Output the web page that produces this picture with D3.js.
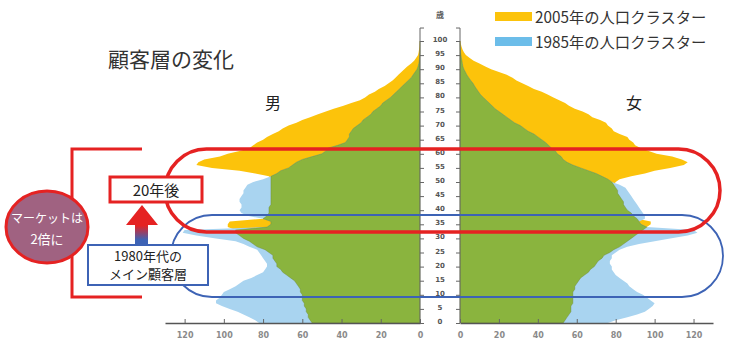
<!DOCTYPE html>
<html><head><meta charset="utf-8">
<script src="https://cdn.jsdelivr.net/npm/d3@7"></script>
<style>
body{margin:0;background:#fff;}
text{font-family:"Noto Sans CJK JP","Noto Sans",sans-serif;}
</style>
</head><body><script>
// ---- data (population, unit: 10,000 persons) ----
const ages = d3.range(0, 101);
const male2005 = [55,56,57,57,58,58,59,59,60,60, 60,61,61,62,63,64,66,68,70,71,
  73,73,74,75,75,77,79,83,85,87, 90,92,94,94,98,98,97,80,78,77,
  77,77,76,76,76,76,76,76,76,76, 76,76,77,84,92,106,114,113,110,102,
  98,92,87,85,83,80,78,75,72,70, 67,63,60,56,52,48,44,39,35,30.6,
  28,26,23,21,18,16,14,12.5,11,9.5, 8,6.5,4.5,3,2,1,0.7,0.5,0.3,0.2,0.1];
const male1985 = [82,84,87,90,93,97,101,104,104,102, 101,100,97,94,92,90,86,83,80,79,
  78,78,79,80,81,82,83,87,90,94, 104,114,121,120,78,76,76,80,88,91,
  92,91,91,92,92,91,90,90,89,88, 85,80,76,73,71,67,65,63,60,55,
  50,48,47,42,38,37,36,36,35,34, 32,30,29,27,25,24,22,20,19,17,
  15,13.5,12,10.5,9,7.5,6,4.5,3.5,2.5, 1.5,1,0.6,0.4,0.2,0.1,0,0,0,0,0];
const female2005 = [53,54,55,56,57,57,57,58,58,58, 58,58,59,59,60,61,62,64,66,67,
  69,70,71,73,74,77,79,82,84,86, 88,90,92,94,96,98,98,91,89,88,
  86,85,84,84,83,82,81,81,80,79, 80,82,88,95,100,108,115,117,114,109,
  101,97,93,90,89,87,86,82,79,78, 76,75,72,68,66,63,59,56,54,51,
  48,45,42,38,35,32,29,27,24,20, 16,13,10,7,5,3,2,1.3,0.8,0.4,0.2];
const female1985 = [76,80,86,91,95,97,99,100,98,96, 94,91,89,87,86,84,82,80,79,78,
  78,77,77,78,78,80,82,86,92,100, 108,117,122,120,96,93,92,95,95,94,
  93,92,91,90,89,88,87,86,85,82, 78,76,73,70,66,62,58,55,53,52,
  50,49,47,45.5,44,42,40,38,35,33, 31,28,26,24,22,20,18,16.5,15,13.5,
  12,10.5,9.5,8.5,7.5,6.7,5.5,4.5,3.5,2.8, 2,1.5,1.2,1,0.7,0.5,0.3,0.2,0.1,0,0];
const xTicks = [0,20,40,60,80,100,120];
const ageTicks = d3.range(0, 101, 5);
const legendLabels = ["2005年の人口クラスター", "1985年の人口クラスター"];
const sideLabels = ["男", "女"];

// ---- colours ----
const C_OR = "#FCC30B", C_BL = "#A9D4F0", C_GR = "#8AB43E";
const C_LEG_BL = "#6CBDE9", C_RED = "#E52222", C_BLUE = "#3D63B5";

const W = 729, H = 342;
const svg = d3.select("body").append("svg").attr("width", W).attr("height", H);

// scales
const y = d3.scaleLinear().domain([0, 100]).range([323, 41]);
const xL = d3.scaleLinear().domain([0, 130]).range([420, 165]);
const xR = d3.scaleLinear().domain([0, 130]).range([460, 713]);

function areaFor(xs, vals) {
  return d3.area()
    .y((d, i) => y(ages[i]))
    .x0(xs(0))
    .x1((d, i) => xs(vals[i]))(vals);
}
const minOf = (a, b) => a.map((v, i) => Math.min(v, b[i]));

const chart = svg.append("g");
[[xL, male2005, male1985], [xR, female2005, female1985]].forEach(([xs, v05, v85]) => {
  chart.append("path").attr("d", areaFor(xs, v05)).attr("fill", C_OR);
  chart.append("path").attr("d", areaFor(xs, v85)).attr("fill", C_BL);
  chart.append("path").attr("d", areaFor(xs, minOf(v05, v85))).attr("fill", C_GR)
    .attr("stroke", "#6a7f2c").attr("stroke-width", 0.6).attr("stroke-opacity", 0.6);
});

// bottom axes
function styleAxis(g) {
  g.select(".domain").attr("stroke", "#555").attr("stroke-width", 1.4);
  g.selectAll(".tick line").attr("stroke", "#666");
  g.selectAll(".tick text").attr("fill", "#8a8a8a").attr("font-size", 8)
    .attr("font-weight", "bold").style("font-family", "'DejaVu Sans',sans-serif");
}
svg.append("g").attr("transform", `translate(0,${y(0)})`)
  .call(d3.axisBottom(xL).tickValues(xTicks).tickSizeInner(-4).tickSizeOuter(0).tickPadding(9))
  .call(styleAxis);
svg.append("g").attr("transform", `translate(0,${y(0)})`)
  .call(d3.axisBottom(xR).tickValues(xTicks).tickSizeInner(-4).tickSizeOuter(0).tickPadding(9))
  .call(styleAxis);

// centre age axis
const cAx = svg.append("g");
[[xL(0), d3.axisRight(y)], [xR(0), d3.axisLeft(y)]].forEach(([px, ax]) => {
  const g = cAx.append("g").attr("transform", `translate(${px},0)`)
    .call(ax.tickValues(ageTicks).tickSize(4).tickFormat(""));
  g.select(".domain").remove();
  g.selectAll(".tick line").attr("stroke", "#666");
  cAx.append("line").attr("x1", px).attr("x2", px).attr("y1", y(104.6)).attr("y2", y(0))
    .attr("stroke", "#666").attr("stroke-width", 1);
  cAx.append("line").attr("x1", px).attr("x2", px + (px < 440 ? 4 : -4))
    .attr("y1", y(104.6)).attr("y2", y(104.6)).attr("stroke", "#666");
});
cAx.selectAll("text.age").data(ageTicks).join("text").attr("class", "age")
  .attr("x", 440).attr("y", d => y(d) + 1)
  .attr("text-anchor", "middle").attr("font-size", 7).attr("font-weight", "bold")
  .attr("fill", "#555").style("font-family", "'DejaVu Sans',sans-serif")
  .text(d => d);
cAx.append("text").attr("x", 440).attr("y", 18).attr("text-anchor", "middle")
  .attr("font-size", 8).attr("font-weight", "bold").attr("fill", "#555").text("歳");

// title & side labels
svg.append("text").attr("x", 108).attr("y", 67).attr("font-size", 21).attr("fill", "#333")
  .text("顧客層の変化");
svg.append("text").attr("x", 273).attr("y", 109).attr("text-anchor", "middle")
  .attr("font-size", 16).attr("fill", "#222").text(sideLabels[0]);
svg.append("text").attr("x", 634).attr("y", 109).attr("text-anchor", "middle")
  .attr("font-size", 16).attr("fill", "#222").text(sideLabels[1]);

// legend
[[C_OR, 12], [C_LEG_BL, 37]].forEach(([c, ty], i) => {
  svg.append("rect").attr("x", 495).attr("y", ty).attr("width", 37).attr("height", 9).attr("fill", c);
  svg.append("text").attr("x", 535).attr("y", ty + 10.5).attr("font-size", 15.3).attr("fill", "#333")
    .text(legendLabels[i]);
});

// ovals
svg.append("rect").attr("x", 171).attr("y", 215).attr("width", 552).attr("height", 82)
  .attr("rx", 41).attr("fill", "none").attr("stroke", C_BLUE).attr("stroke-width", 1.8);
svg.append("rect").attr("x", 165).attr("y", 149).attr("width", 555).attr("height", 83)
  .attr("rx", 41.5).attr("fill", "none").attr("stroke", C_RED).attr("stroke-width", 3.5);

// bracket
svg.append("path").attr("d", "M142,149 H72 V297 H142").attr("fill", "none")
  .attr("stroke", C_RED).attr("stroke-width", 3);

// market circle
svg.append("ellipse").attr("cx", 47).attr("cy", 227).attr("rx", 41).attr("ry", 36)
  .attr("fill", "#A06281").attr("stroke", C_RED).attr("stroke-width", 3);
svg.append("text").attr("x", 47).attr("y", 223).attr("text-anchor", "middle")
  .attr("font-size", 12).attr("fill", "#fff").text("マーケットは");
svg.append("text").attr("x", 47).attr("y", 243.5).attr("text-anchor", "middle")
  .attr("font-size", 13).attr("fill", "#fff").text("2倍に");

// arrow with gradient
const defs = svg.append("defs");
const grad = defs.append("linearGradient").attr("id", "arrowGrad")
  .attr("gradientUnits", "userSpaceOnUse").attr("x1", 0).attr("x2", 0).attr("y1", 205).attr("y2", 246);
grad.append("stop").attr("offset", 0).attr("stop-color", C_RED);
grad.append("stop").attr("offset", 0.5).attr("stop-color", C_RED);
grad.append("stop").attr("offset", 0.85).attr("stop-color", C_BLUE);
grad.append("stop").attr("offset", 1).attr("stop-color", C_BLUE);
svg.append("path").attr("d", "M142,205 L158,225 L148,225 L148,246 L135,246 L135,225 L126,225 Z")
  .attr("fill", "url(#arrowGrad)");

// 20年後 box
svg.append("rect").attr("x", 110).attr("y", 177).attr("width", 92).attr("height", 25)
  .attr("fill", "#fff").attr("stroke", C_RED).attr("stroke-width", 3);
svg.append("text").attr("x", 156).attr("y", 195.5).attr("text-anchor", "middle")
  .attr("font-size", 15).attr("fill", "#222").text("20年後");

// 1980年代 box
svg.append("rect").attr("x", 88).attr("y", 245).attr("width", 120).attr("height", 40)
  .attr("fill", "#fff").attr("stroke", C_BLUE).attr("stroke-width", 2);
svg.append("text").attr("x", 148).attr("y", 261).attr("text-anchor", "middle")
  .attr("font-size", 13).attr("fill", "#222").text("1980年代の");
svg.append("text").attr("x", 148).attr("y", 278.5).attr("text-anchor", "middle")
  .attr("font-size", 13).attr("fill", "#222").text("メイン顧客層");
</script></body></html>
